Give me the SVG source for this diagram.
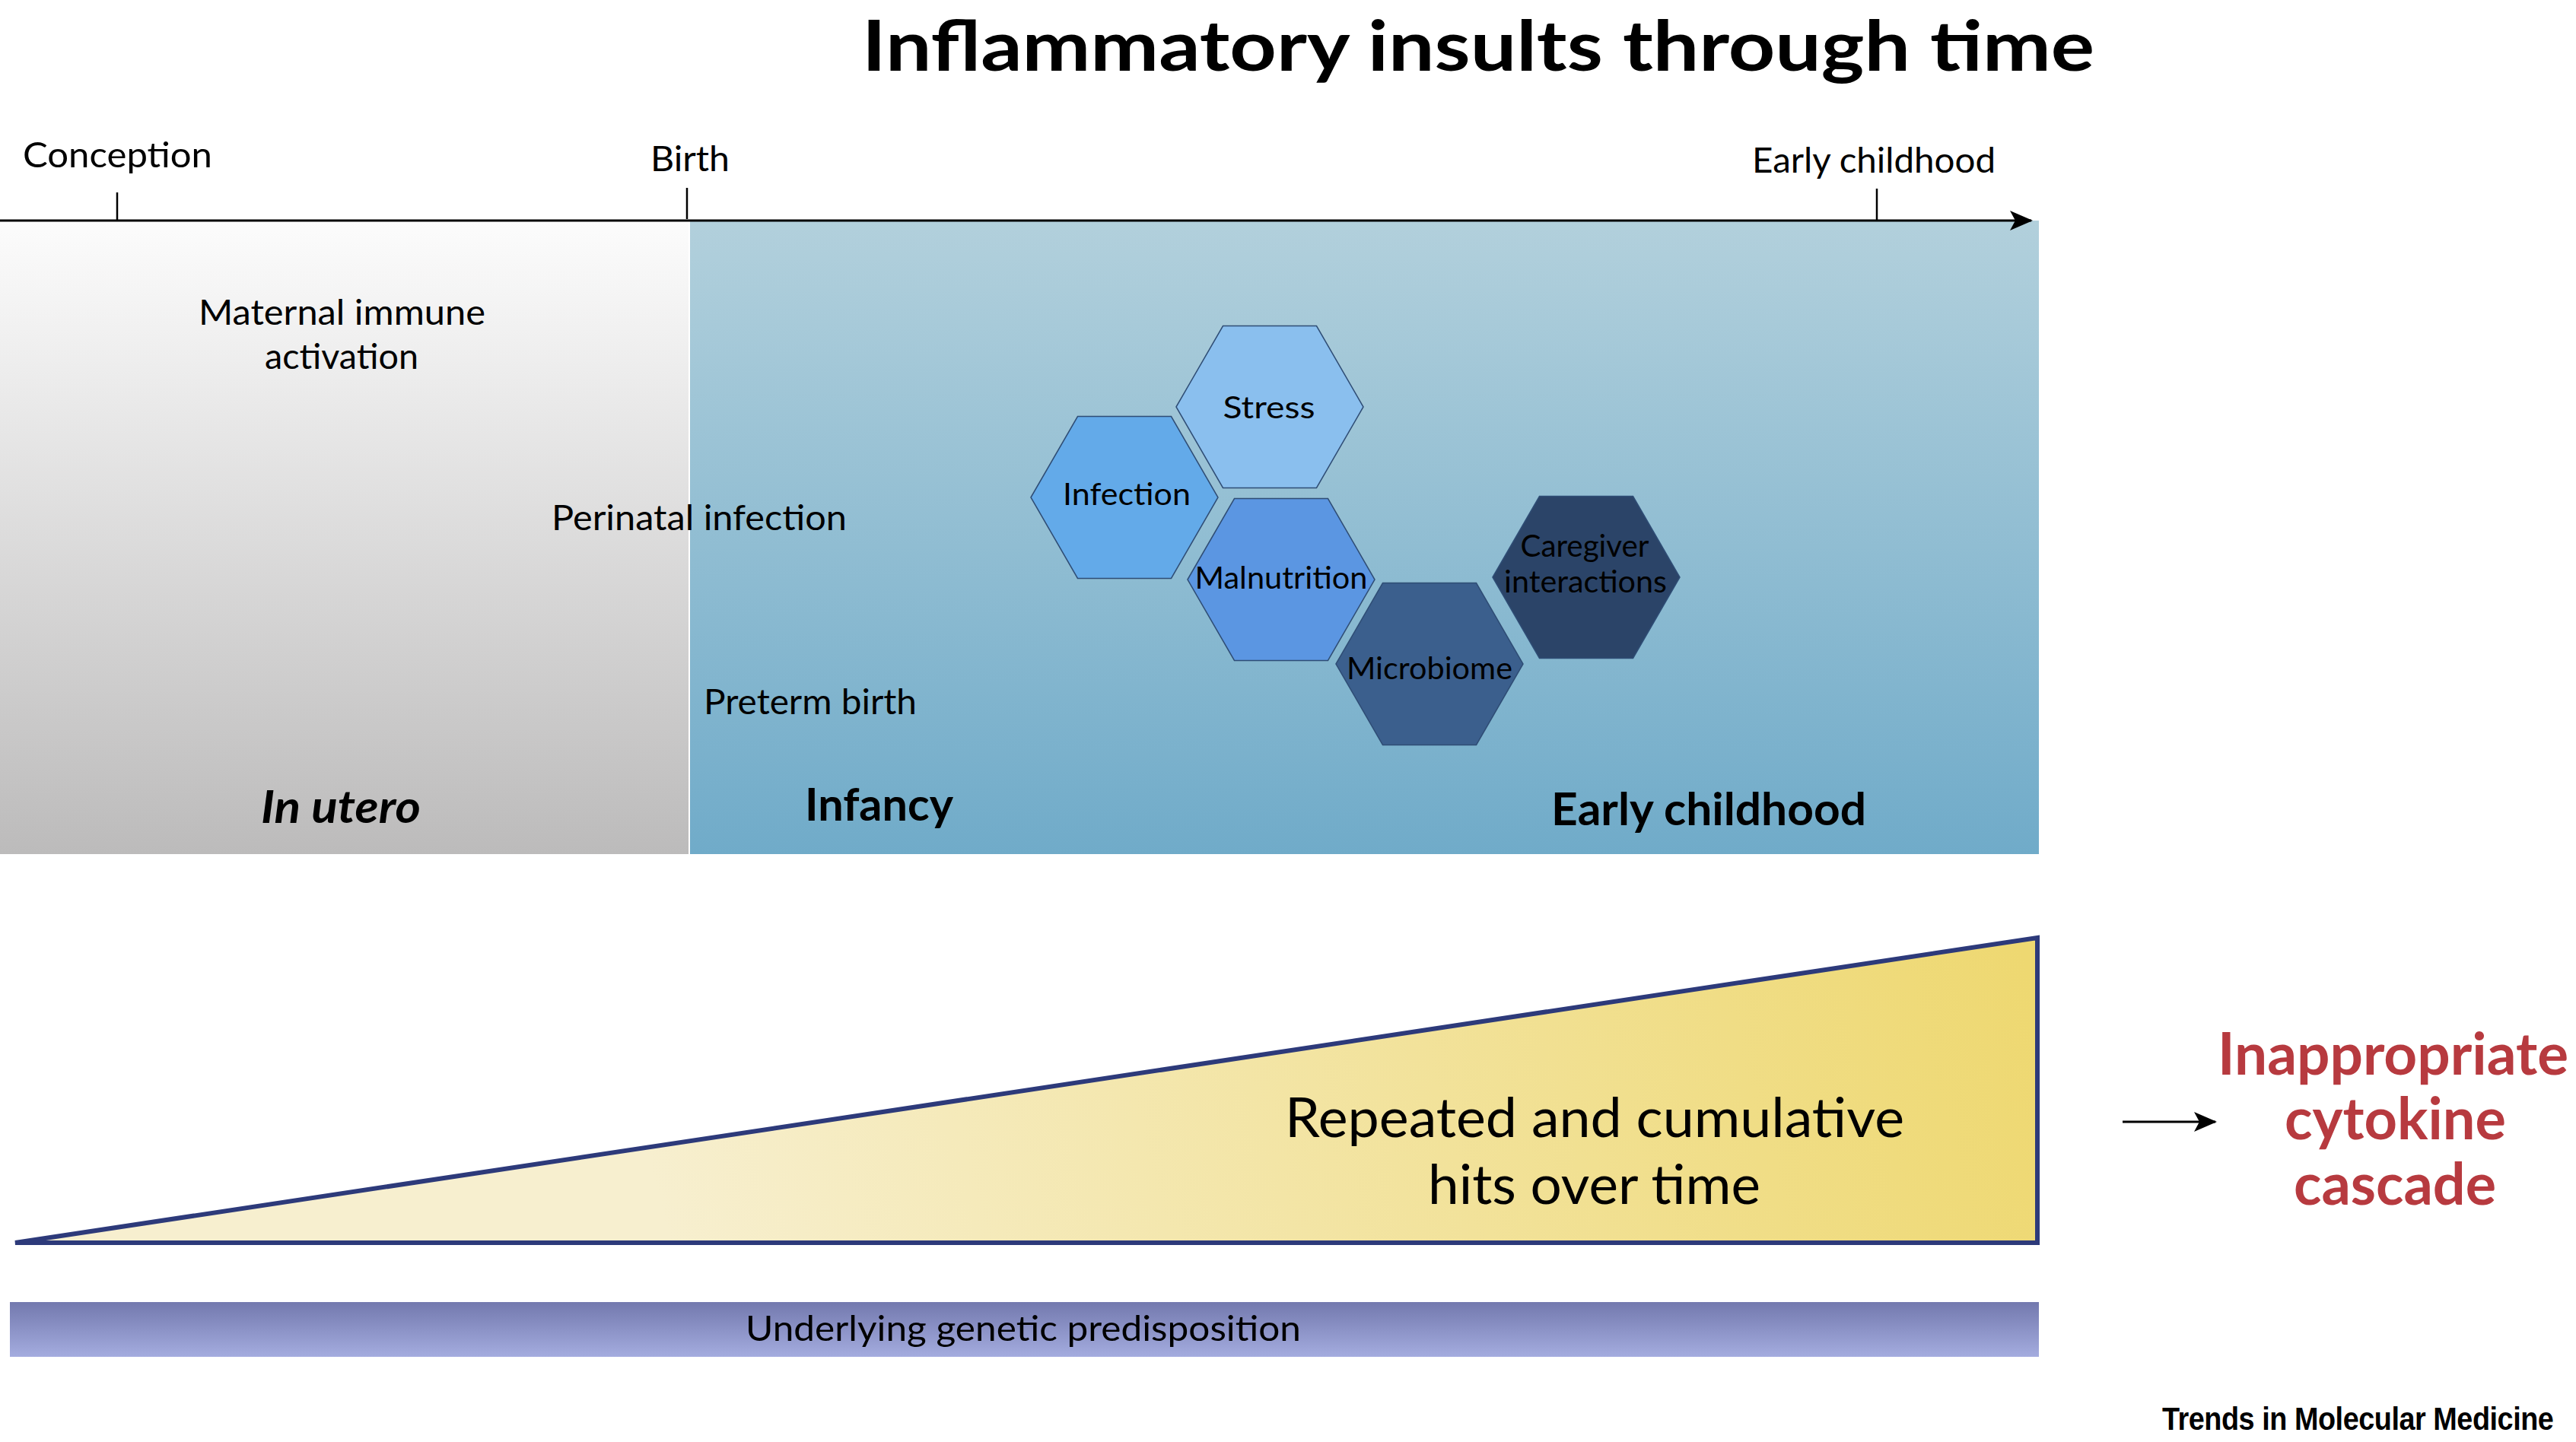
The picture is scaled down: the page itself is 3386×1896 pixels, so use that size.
<svg xmlns="http://www.w3.org/2000/svg" xmlns:xlink="http://www.w3.org/1999/xlink" width="3386" height="1896" viewBox="0 0 3386 1896">
  <defs>
    <linearGradient id="gGray" x1="0" y1="0" x2="0" y2="1">
      <stop offset="0" stop-color="#fcfcfc"/>
      <stop offset="1" stop-color="#bcbbbb"/>
    </linearGradient>
    <linearGradient id="gBlue" x1="0" y1="0" x2="0" y2="1">
      <stop offset="0" stop-color="#b2d0dc"/>
      <stop offset="1" stop-color="#70abc9"/>
    </linearGradient>
    <linearGradient id="gTri" gradientUnits="userSpaceOnUse" x1="900" y1="1700" x2="2650" y2="1220">
      <stop offset="0" stop-color="#f7efcf"/>
      <stop offset="1" stop-color="#eed871"/>
    </linearGradient>
    <linearGradient id="gBar" x1="0" y1="0" x2="0" y2="1">
      <stop offset="0" stop-color="#7379ae"/>
      <stop offset="1" stop-color="#a4acdf"/>
    </linearGradient>
    <polygon id="hex" points="-123,0 -61.5,-106.5 61.5,-106.5 123,0 61.5,106.5 -61.5,106.5"/>
    <marker id="ah" viewBox="0 0 30 26" refX="28" refY="13" markerWidth="30" markerHeight="26" markerUnits="userSpaceOnUse" orient="auto">
      <path d="M0,0 L30,13 L0,26 L7,13 Z" fill="#000"/>
    </marker>
  </defs>
  <style>
    .t { font-family: Lato, "Liberation Sans", sans-serif; fill: #000; }
    .reg { font-size: 47px; }
    .sec { font-size: 60px; font-weight: bold; }
    .hx { font-size: 40px; text-anchor: middle; }
    .red { font-family: Lato, "Liberation Sans", sans-serif; font-size: 76px; font-weight: bold; fill: #b73a3f; }
    .hexs { stroke: #2f4d75; stroke-width: 1.5; }
    .ln { stroke: #000; fill: none; }
  </style>
  <rect width="3386" height="1896" fill="#ffffff"/>

  <g id="title">
    <text class="t" x="1133" y="93" font-size="92" font-weight="bold" textLength="1620" lengthAdjust="spacingAndGlyphs">Inflammatory insults through time</text>
  </g>

  <g id="in-utero-panel">
    <rect x="0" y="290" width="905" height="833" fill="url(#gGray)"/>
    <text class="t reg" x="261" y="427" textLength="377" lengthAdjust="spacingAndGlyphs">Maternal immune</text>
    <text class="t reg" x="348" y="485" textLength="202" lengthAdjust="spacingAndGlyphs">activation</text>
    <text class="t sec" x="343" y="1082" font-style="italic" textLength="210" lengthAdjust="spacingAndGlyphs">In utero</text>
  </g>

  <g id="postnatal-panel">
    <rect x="907" y="290" width="1773" height="833" fill="url(#gBlue)"/>
    <text class="t reg" x="925" y="939" textLength="280" lengthAdjust="spacingAndGlyphs">Preterm birth</text>
    <text class="t sec" x="1058" y="1079" textLength="195" lengthAdjust="spacingAndGlyphs">Infancy</text>
    <text class="t sec" x="2039" y="1085" textLength="414" lengthAdjust="spacingAndGlyphs">Early childhood</text>
  </g>

  <g id="perinatal-infection">
    <text class="t reg" x="725" y="697" textLength="388" lengthAdjust="spacingAndGlyphs">Perinatal infection</text>
  </g>

  <g id="timeline-labels">
    <text class="t reg" x="30" y="220" textLength="249" lengthAdjust="spacingAndGlyphs">Conception</text>
    <text class="t reg" x="855" y="225" textLength="104" lengthAdjust="spacingAndGlyphs">Birth</text>
    <text class="t reg" x="2303" y="227" textLength="320" lengthAdjust="spacingAndGlyphs">Early childhood</text>
  </g>

  <g id="hex-stress">
    <use xlink:href="#hex" href="#hex" x="1669" y="535" fill="#8abfee" class="hexs"/>
    <text class="t hx" x="1668" y="550" font-size="44" textLength="121" lengthAdjust="spacingAndGlyphs">Stress</text>
  </g>
  <g id="hex-infection">
    <use xlink:href="#hex" href="#hex" x="1478" y="654" fill="#63aae9" class="hexs"/>
    <text class="t hx" x="1481" y="664" textLength="168" lengthAdjust="spacingAndGlyphs">Infection</text>
  </g>
  <g id="hex-malnutrition">
    <use xlink:href="#hex" href="#hex" x="1684" y="762" fill="#5b96e2" class="hexs"/>
    <text class="t hx" x="1684" y="774" textLength="227" lengthAdjust="spacingAndGlyphs">Malnutrition</text>
  </g>
  <g id="hex-microbiome">
    <use xlink:href="#hex" href="#hex" x="1879" y="873" fill="#3b5f8d" class="hexs"/>
    <text class="t hx" x="1879" y="893" textLength="218" lengthAdjust="spacingAndGlyphs">Microbiome</text>
  </g>
  <g id="hex-caregiver">
    <use xlink:href="#hex" href="#hex" x="2085" y="759" fill="#2b4468" class="hexs"/>
    <text class="t hx" x="2083" y="732" textLength="169" lengthAdjust="spacingAndGlyphs">Caregiver</text>
    <text class="t hx" x="2084" y="779" textLength="214" lengthAdjust="spacingAndGlyphs">interactions</text>
  </g>

  <g id="cumulative-hits">
    <polygon points="20,1634 2678,1233 2678,1634" fill="url(#gTri)" stroke="#2d3a7a" stroke-width="6" stroke-linejoin="miter"/>
    <text class="t" x="1689" y="1495" font-size="72" textLength="814" lengthAdjust="spacingAndGlyphs">Repeated and cumulative</text>
    <text class="t" x="1877" y="1583" font-size="72" textLength="437" lengthAdjust="spacingAndGlyphs">hits over time</text>
  </g>

  <g id="genetic-predisposition">
    <rect x="13" y="1712" width="2667" height="72" fill="url(#gBar)"/>
    <text class="t reg" x="980" y="1763" textLength="730" lengthAdjust="spacingAndGlyphs">Underlying genetic predisposition</text>
  </g>

  <g id="cytokine-cascade">
    <text class="red" x="2915" y="1413" textLength="461" lengthAdjust="spacingAndGlyphs">Inappropriate</text>
    <text class="red" x="3003" y="1498" textLength="291" lengthAdjust="spacingAndGlyphs">cytokine</text>
    <text class="red" x="3015" y="1584" textLength="266" lengthAdjust="spacingAndGlyphs">cascade</text>
  </g>

  <g id="connectors">
    <line class="ln" x1="0" y1="290" x2="2670" y2="290" stroke-width="3" marker-end="url(#ah)"/>
    <line class="ln" x1="154" y1="253" x2="154" y2="290" stroke-width="2.5"/>
    <line class="ln" x1="903" y1="247" x2="903" y2="288" stroke-width="2.5"/>
    <line class="ln" x1="2467" y1="248" x2="2467" y2="290" stroke-width="2.5"/>
    <line class="ln" x1="2790" y1="1475" x2="2912" y2="1475" stroke-width="3" marker-end="url(#ah)"/>
  </g>

  <g id="footer">
    <text transform="translate(2842,1880) scale(0.9,1)" font-family="'Liberation Sans', Arial, sans-serif" font-size="42" font-weight="bold" fill="#000" letter-spacing="-0.5">Trends in Molecular Medicine</text>
  </g>
</svg>
